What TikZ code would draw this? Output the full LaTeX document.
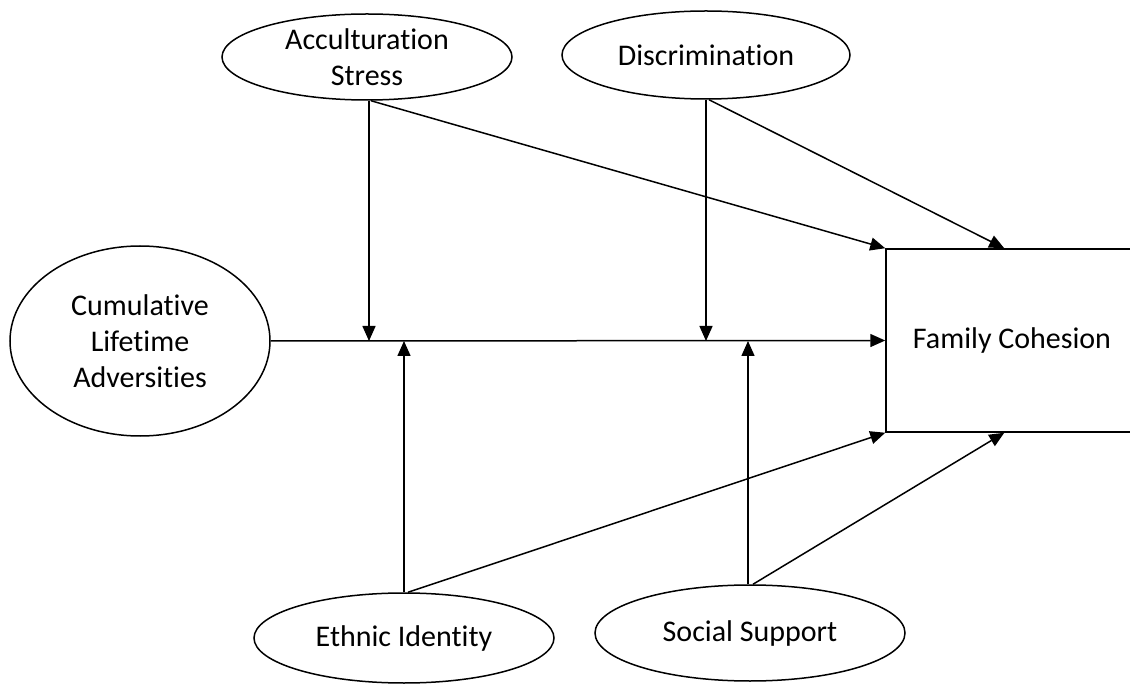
\documentclass[tikz,border=0pt]{standalone}
\usepackage{fontspec}
\setmainfont{Carlito}[Ligatures=NoCommon]
\usetikzlibrary{shapes.geometric,arrows.meta}
\begin{document}
\begin{tikzpicture}[x=1pt,y=-1pt,
  every node/.style={font=\fontsize{30}{36}\selectfont, align=center, inner sep=0pt},
  oval/.style={ellipse, draw, line width=1.5pt},
  box/.style={rectangle, draw, line width=1.5pt},
  conn/.style={line width=1.5pt, -{Triangle[length=15pt,width=13pt]}}]
\useasboundingbox (0,0) rectangle (1130,684);
\node[oval, minimum width=290pt, minimum height=86pt] (acc) at (367,57) {Acculturation\\Stress};
\node[oval, minimum width=288pt, minimum height=88pt] (dis) at (706,55) {Discrimination};
\node[oval, minimum width=260pt, minimum height=190pt] (cum) at (140,341) {Cumulative\\Lifetime\\Adversities};
\node[box, minimum width=252pt, minimum height=183pt] (fc) at (1012,340.5) {Family Cohesion};
\node[oval, minimum width=300pt, minimum height=90pt] (eth) at (404,638) {Ethnic Identity};
\node[oval, minimum width=310pt, minimum height=96pt] (soc) at (750,633) {Social Support};
\coordinate (j1) at (369,341);
\coordinate (j2) at (706,341);
\coordinate (j3) at (404,341);
\coordinate (j4) at (748,341);
\coordinate (fcT) at ([xshift=119pt]fc.north west);
\coordinate (fcB) at ([xshift=119pt]fc.south west);
\draw[conn] (cum.east) -- (fc.west);
\draw[conn] (acc.south -| j1) -- (j1);
\draw[conn] (acc.south) ++(4,0) -- (fc.north west);
\draw[conn] (dis.south) -- (j2);
\draw[conn] (dis.south) ++(3,0) -- (fcT);
\draw[conn] (eth.north) -- (j3);
\draw[conn] (eth.north) ++(4,0) -- (fc.south west);
\draw[conn] (soc.north -| j4) -- (j4);
\draw[conn] (soc.north) ++(3,0) -- (fcB);
\end{tikzpicture}
\end{document}
